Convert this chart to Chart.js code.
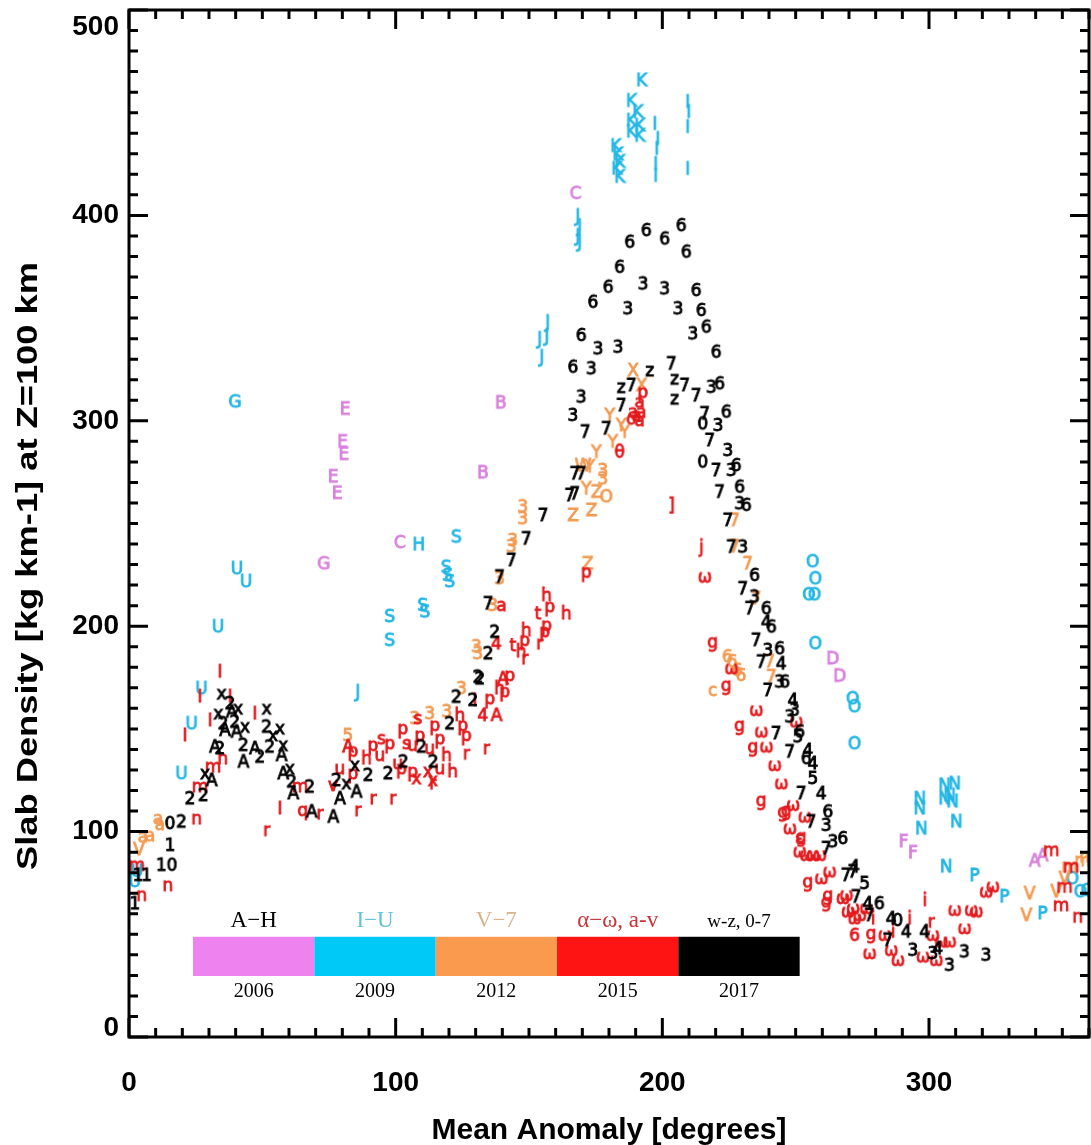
<!DOCTYPE html>
<html>
<head>
<meta charset="utf-8">
<script src="https://cdn.jsdelivr.net/npm/chart.js@4.4.1/dist/chart.umd.min.js"></script>
<style>
  html, body { margin: 0; padding: 0; background: #fff; }
  #wrap { width: 1091px; height: 1145px; position: relative; }
</style>
</head>
<body>
<div id="wrap"><canvas id="myChart" width="1091" height="1145"></canvas></div>
<script>
// points are [mean anomaly (deg), slab density, glyph]
const violet2006 = [
  [167.5, 410, 'C'], [81, 305, 'E'], [80, 289, 'E'], [80.5, 283, 'E'], [76.5, 272, 'E'], [78, 264, 'E'],
  [139.4, 308, 'B'], [132.7, 274, 'B'], [101.6, 240, 'C'], [73, 229.7, 'G'],
  [263.9, 183.5, 'D'], [266.5, 175, 'D'], [290.5, 94.4, 'F'], [294, 89, 'F'],
  [339.6, 85, 'A'], [342.6, 87.6, 'A']
];

const cyan2009 = [
  [192.2, 465, 'K'], [188.4, 455, 'K'], [190.8, 449.6, 'K'], [188.4, 445.4, 'K'], [191.5, 443, 'K'], [188.4, 440, 'K'],
  [191.5, 438, 'K'], [182.5, 433, 'K'], [183.3, 429, 'K'], [184, 425.3, 'K'], [182.9, 422, 'K'], [184, 418, 'K'],
  [197.2, 443.8, 'I'], [198.3, 436.5, 'I'], [197.9, 431.6, 'I'], [197.5, 424.3, 'I'], [197.5, 418.5, 'I'],
  [209.5, 454.5, 'I'], [209.9, 449.6, 'I'], [209.5, 442.3, 'I'], [209.5, 421.9, 'I'],
  [168.3, 399, 'J'], [169, 394, 'J'], [168.3, 389.3, 'J'], [169, 386.4, 'J'],
  [157, 347.4, 'J'], [154, 339.2, 'J'], [156.7, 340.6, 'J'], [154.8, 330.4, 'J'], [85.8, 167.4, 'J'],
  [39.7, 308.5, 'G'],
  [40.5, 227.3, 'U'], [43.9, 221, 'U'], [33.4, 199, 'U'], [27.2, 168.9, 'U'], [23.5, 151.8, 'U'], [19.7, 127.5, 'U'],
  [2.2, 75, 'U'], [3, 80, 'U'],
  [108.7, 239, 'H'],
  [122.8, 242.7, 'S'], [119, 228, 'S'], [119.5, 224, 'S'], [120.3, 221, 'S'], [110.2, 209.4, 'S'], [111, 206.3, 'S'],
  [97.8, 204, 'S'], [97.8, 192.4, 'S'],
  [256.4, 230.7, 'O'], [257.4, 222.4, 'O'], [255, 214.6, 'O'], [257.1, 214.6, 'O'], [257.4, 190.8, 'O'],
  [271.4, 164, 'O'], [272.1, 160.1, 'O'], [272.1, 142.1, 'O'],
  [296.5, 115.3, 'N'], [296.5, 110.5, 'N'], [297.1, 100.7, 'N'], [305.8, 121.8, 'N'], [305.8, 115.3, 'N'],
  [307.7, 116.9, 'N'], [308.8, 113.9, 'N'], [309.6, 122.6, 'N'], [310.2, 104.1, 'N'], [306.4, 82.2, 'N'],
  [317.1, 77.9, 'P'], [328.3, 67.6, 'P'], [342.6, 59.4, 'P'],
  [353.8, 76.4, 'O'], [356.8, 70, 'O'], [359.4, 70.6, 'O']
];

const orange2012 = [
  [10.9, 105.6, 'a'], [5.2, 96.8, 'a'], [7.9, 97.3, 'a'], [11.6, 102.7, 'a'], [3.7, 90.5, 'V'], [82.1, 146, '5'],
  [107.2, 154.3, '3'], [112.8, 156.7, '3'], [119.2, 157.7, '3'], [124.7, 168.9, '3'], [130.3, 189.3, '3'],
  [130.8, 185.9, '3'], [136.4, 209.4, '3'], [139, 222.4, '3'], [143.4, 238, '3'], [143.9, 241, '3'],
  [147.7, 251.6, '3'], [147.7, 257.4, '3'],
  [189, 323.7, 'X'], [192.2, 316.5, 'X'], [180.3, 301.9, 'Y'], [184.6, 297, 'Y'], [185.9, 293.8, 'Y'],
  [181.4, 289, 'Y'], [175.3, 284, 'Y'], [170.3, 277.5, 'W'], [172.8, 276.9, 'Y'], [177.7, 275.1, '3'],
  [177.7, 271, '3'], [171.5, 266.2, 'Y'], [175.3, 264.6, 'Z'], [179, 262.3, 'O'], [166.5, 253.2, 'Z'],
  [173.4, 255.6, 'Z'], [172, 229.7, 'Z'],
  [227.1, 250.8, '7'], [227.1, 238, '7'], [232, 229.7, '7'], [235.2, 212.7, '7'], [240.3, 182, '7'], [240.9, 174.7, '7'],
  [224.4, 184.4, '6'], [226.2, 182, '6'], [228.1, 177.8, '6'], [229.5, 175.3, '6'], [218.9, 168, 'c'],
  [337.7, 69.1, 'V'], [336.5, 58.5, 'V'], [347.7, 70, 'V'], [350.8, 76.4, 'V'],
  [357.6, 85.2, 'm'], [352.7, 82.2, 'm'], [359.4, 87.1, 'm']
];

const red2015 = [
  [2.9, 82.9, 'm'], [4.8, 68.3, 'n'], [14.6, 73.1, 'n'], [25.4, 105.6, 'n'], [26.6, 121.2, 'm'], [31.5, 130.9, 'm'],
  [35.2, 134.8, 'n'], [21, 146.1, 'I'], [26.6, 165, 'I'], [30.4, 153.4, 'I'], [34.1, 177.1, 'I'], [37.9, 165, 'I'],
  [47.2, 156.7, 'I'], [51.6, 99.9, 'r'], [56.6, 110.5, 'I'], [65.2, 109.6, 'q'], [71.6, 108, 'r'], [85.8, 109.6, 'r'],
  [91.5, 115.3, 'r'], [98.9, 115.3, 'r'], [113.9, 122.6, 'r'], [126.5, 137.2, 'r'], [134, 139.7, 'r'],
  [64.1, 121.2, 'm'], [76.5, 121.8, 'v'], [82.1, 140.6, 'A'], [84, 138.5, 'p'],
  [91.5, 141.3, 'p'], [94.7, 144.5, 's'], [97.8, 142.1, 'p'], [102.7, 149.4, 'p'], [104.1, 142.1, 's'],
  [106.4, 141.3, 'u'], [109.1, 146.1, 'p'], [112.8, 139.7, 'u'], [116.6, 144.5, 'p'], [119.1, 136.4, 'h'],
  [121.4, 128.5, 'h'], [114.7, 151, 'p'], [108.3, 154.3, 's'], [94.1, 136.4, 'u'], [89.1, 134.8, 'h'],
  [100.8, 132.4, 'u'], [102.2, 129.9, 'p'], [106.4, 128.5, 'p'], [107.8, 125.1, 'x'], [112.1, 128.5, 'x'],
  [113.9, 124.2, 'x'], [116.6, 129.9, 'u'], [84, 127.5, 'p'], [79.1, 129.9, 'u'], [125.2, 151, 'p'],
  [126.5, 146.1, 'p'], [124.1, 155.9, 'h'], [137.8, 155.9, 'A'], [129.7, 163.2, 'I'], [135.3, 164, 'p'],
  [132.7, 155.9, '4'],
  [156.6, 214.3, 'h'], [157.8, 208.8, 'p'], [153.3, 205.4, 't'], [164, 205.4, 'h'], [156.6, 199.7, 'p'],
  [155.9, 196.6, 'p'], [154, 190.8, 'r'], [149, 197.2, 'h'], [148.4, 192.4, 'p'], [147.1, 186.9, 'h'],
  [143.9, 189.9, 't'], [148.4, 183.5, 'r'], [142.8, 175.3, 'p'], [140.2, 173.7, 'A'], [139, 168.9, 'h'],
  [140.9, 167.4, 'p'], [137.8, 190.8, '4'], [171.5, 225.6, 'p'], [139.7, 209.4, 'a'],
  [191.5, 308.4, 'a'], [189, 303.5, 'a'], [192.1, 303.5, 'a'], [190.3, 301.9, 'a'], [188.4, 300.2, 'o'],
  [192.7, 313.2, 'p'], [191.5, 299.4, 'a'], [184, 284, 'θ'],
  [203.4, 258.1, ']'], [214.6, 237.8, 'j'], [215.9, 223.2, 'ω'], [218.9, 191.6, 'g'], [224, 170.5, 'g'], [225.9, 178.6, 'ω'],
  [235.2, 158.3, 'ω'], [229, 151, 'g'], [237.1, 147.8, 'ω'], [234, 140.5, 'g'], [239, 140.5, 'ω'], [242.1, 131.5, 'ω'],
  [244.6, 122.6, 'ω'], [237.1, 114.5, 'g'], [245.2, 108.9, 'g'], [249, 112.1, 'ω'], [247.8, 100.7, 'ω'],
  [252.1, 96.7, 'g'], [251.5, 89.4, 'ω'], [254, 87.7, 'ω'], [259, 87.7, 'ω'], [254.6, 74.8, 'g'], [259.6, 76.4, 'ω'],
  [262.1, 68.3, 'g'], [269, 68.3, 'ω'], [271.5, 61.8, 'ω'], [253.4, 106.4, 'ω'], [250.2, 152.7, 'ω'],
  [246.5, 109.6, 'g'], [251.5, 95.9, 'ε'], [256.5, 87.7, 'ω'], [262.7, 79.7, 'ω'], [261.5, 65.1, 'g'],
  [267.7, 66.7, 'ω'], [269.6, 60.2, 'ω'], [272.1, 56.9, 'ω'], [274, 58.5, 'ω'], [276.5, 61.8, 'ω'], [279, 56.9, 'i'],
  [272.1, 48.8, '6'], [278.3, 49.6, 'g'], [283.4, 48.8, 'ω'], [286.5, 50.5, 'i'], [292.7, 56.9, 'i'],
  [277.7, 39.9, 'ω'], [285.8, 41.5, 'ω'], [288.3, 36.6, 'ω'], [298.4, 65.8, 'i'], [300.8, 55.3, 'r'],
  [301.4, 48.8, 'ω'], [304.6, 45.6, 'ω'], [307.7, 45.6, 'ω'], [297.7, 38.3, 'ω'], [302.7, 36.6, 'ω'],
  [313.3, 52.1, 'ω'], [309.6, 61, 'ω'], [315.8, 61, 'ω'], [317.7, 60.2, 'ω'], [321.4, 69.9, 'ω'], [323.9, 72.4, 'ω'],
  [345.8, 90.2, 'm'], [353.3, 82.1, 'm'], [349.5, 63.4, 'm'], [350.8, 72.4, 'm'], [355.8, 57.8, 'n']
];

const black2017 = [
  [2.2, 64.2, '1'], [6.6, 78, '1'], [3.4, 78, '1'], [14.1, 82.9, '10'], [15.4, 92.6, '1'], [15.4, 103.2, '0'],
  [19.7, 104, '2'], [22.9, 115.3, '2'], [27.9, 116.9, '2'], [31, 124.2, 'A'], [28.5, 127.5, 'x'], [32.2, 140.5, 'A'],
  [34.1, 139.7, '2'], [33.5, 156.7, 'x'], [35.3, 151.8, '2'], [36, 148.6, 'A'], [34.7, 166.4, 'x'], [37.9, 161.6, '2'],
  [38.5, 157.5, 'A'], [39.7, 152.6, '2'], [40.9, 159.1, 'x'], [40.3, 147.8, 'A'], [43.5, 150.2, 'x'], [42.9, 141.3, '2'],
  [42.9, 133.2, 'A'], [47.2, 139.7, 'A'], [49.1, 135.6, '2'], [51.6, 159.1, 'x'], [51.6, 150.2, '2'], [54, 146.1, 'x'],
  [52.8, 140.5, '2'], [56.6, 149.4, 'x'], [57.8, 141.3, 'x'], [57.2, 136.4, 'A'], [57.8, 127.5, 'A'], [60.3, 129.9, 'x'],
  [61, 123.5, '2'], [61.6, 117.8, 'A'], [67.8, 121, '2'], [68.5, 108.9, 'A'], [76.6, 106.4, 'A'], [77.8, 124.2, '2'],
  [81.5, 122.6, 'x'], [79.1, 115.3, 'A'], [85.3, 118.6, 'A'], [84.7, 131.5, 'x'], [89.7, 126.7, '2'], [97.2, 127.5, '2'],
  [102.9, 133.2, '2'], [109.7, 140.5, '2'], [114.1, 133.2, '2'], [120.3, 151.8, '2'], [122.8, 164.8, '2'], [129, 163.2, '2'],
  [130.9, 174.5, '2'], [134.7, 185.9, '2'], [137.2, 196.4, '2'], [131.6, 173.7, '2'],
  [134.7, 210.2, '7'], [139, 223.2, '7'], [143.4, 231.3, '7'], [149, 241.8, '7'], [155.3, 253.2, '7'],
  [167.2, 273.5, '7'], [169.6, 273.5, '7'], [165.3, 262.9, '7'], [167.2, 263.7, '7'], [171.1, 293.8, '7'],
  [179, 295.4, '7'], [166.5, 301.9, '3'], [169.6, 310.8, '3'], [166.5, 325.4, '6'], [173.4, 324.6, '3'],
  [179.7, 364.3, '6'], [192.8, 365.9, '3'], [200.9, 363.5, '3'], [212.7, 362.7, '6'], [174, 357, '6'],
  [187.1, 353.8, '3'], [205.9, 353.8, '3'], [214.6, 353, '6'], [169.6, 340.8, '6'], [175.9, 334.3, '3'],
  [183.4, 335.1, '3'], [211.5, 341.6, '3'], [216.5, 344.9, '6'], [184.6, 315.6, 'z'], [188.4, 316.5, '7'],
  [184.6, 306.7, '7'], [195.3, 323.7, 'z'], [203.4, 327, '7'], [204.6, 319.7, 'z'], [208.4, 316.5, '7'],
  [204.6, 310, 'z'], [212.7, 311.5, '7'], [215.2, 297.8, '0'], [215.2, 279.2, '0'],
  [187.8, 386.2, '6'], [194, 391.9, '6'], [200.9, 387.8, '6'], [207.1, 394.3, '6'], [209, 381.4, '6'], [184, 374, '6'],
  [220.2, 332.7, '6'],
  [218.4, 315.6, '3'], [221.5, 317.3, '6'], [215.9, 302.7, '7'], [224, 303.5, '6'], [220.9, 297, '3'],
  [217.8, 289.7, '7'], [224.6, 284.8, '3'], [220.2, 275.1, '7'], [225.9, 275.1, '3'], [227.7, 277.5, '6'],
  [221.5, 264.6, '7'], [229, 267, '6'], [229, 258.9, '3'], [231.5, 258.1, '6'], [224.6, 250.8, '7'],
  [225.9, 237.8, '7'], [230.2, 237.8, '3'], [234.6, 224, '6'], [230.2, 217.5, '7'], [234.6, 213.5, '3'],
  [232.8, 207.8, '7'], [239, 207.8, '6'], [240.9, 198.9, '6'], [239, 201.3, '4'], [235.2, 192.4, '7'],
  [239.6, 187.5, '3'], [244, 188.3, '6'], [237.1, 181.8, '7'], [244.6, 181, '4'], [244, 172.1, '3'],
  [245.9, 172.1, '6'], [239.6, 168, '7'],
  [249, 163.2, '4'], [249.6, 158.3, '3'], [247.8, 155.1, '3'], [242.7, 147, '7'], [251.5, 147.8, '6'],
  [250.9, 145.4, '5'], [247.8, 138.1, '7'], [254.6, 138.8, '4'], [254, 134.8, '6'], [256.5, 132.4, '4'],
  [256.5, 125.1, '5'], [259.6, 117.8, '4'], [252.1, 117.8, '7'], [262.1, 108.9, '6'], [255.8, 104, '7'],
  [261.5, 102.3, '3'], [267.7, 95.9, '6'], [264, 94.3, '3'], [261.5, 91, '7'], [271.5, 79.7, '7'],
  [272.1, 82.1, '4'], [272.7, 67.5, '7'], [275.9, 74, '5'], [277.1, 64.2, '4'],
  [268.9, 78, '7'], [281.4, 64.2, '6'], [277.7, 58.5, '7'], [285.8, 56.9, '4'], [288.3, 56, '0'],
  [284.6, 46.4, '7'], [291.5, 50.5, '4'], [298.4, 50.5, '4'], [294, 41.5, '3'], [301.5, 39.9, '3'],
  [303.3, 42.3, '4'], [307.7, 34.2, '3'], [313.3, 40.7, '3'], [321.4, 39.1, '3']
];

const groups = [
  { name: 'w-z, 0-7', year: '2017', points: black2017, color: '#000000', bar: '#000000', text: '#000000' },
  { name: 'α−ω, a-v', year: '2015', points: red2015, color: '#e3191c', bar: '#ff1414', text: '#c8343a' },
  { name: 'V−7', year: '2012', points: orange2012, color: '#f39a52', bar: '#f99a4e', text: '#d6b48c' },
  { name: 'I−U', year: '2009', points: cyan2009, color: '#22b6e4', bar: '#00c8f7', text: '#5fc3d6' },
  { name: 'A−H', year: '2006', points: violet2006, color: '#d981dd', bar: '#ee82ee', text: '#000000' }
];
const legendOrder = ['2006', '2009', '2012', '2015', '2017'];
const xTickValues = [0, 100, 200, 300];
const yTickValues = [0, 100, 200, 300, 400, 500];

// glyph images used as point styles
const glyphCache = {};
function glyph(ch, color) {
  const key = ch + '|' + color;
  if (glyphCache[key]) return glyphCache[key];
  const c = document.createElement('canvas');
  c.width = 28;
  c.height = 24;
  const g = c.getContext('2d');
  g.font = '17px "DejaVu Sans"';
  g.fillStyle = color;
  g.strokeStyle = color;
  g.lineWidth = 0.9;
  g.textAlign = 'center';
  g.textBaseline = 'middle';
  g.fillText(ch, 14, 12);
  g.strokeText(ch, 14, 12);
  glyphCache[key] = c;
  return c;
}

const frame = {
  id: 'frame',
  afterDraw(chart) {
    const { ctx, chartArea: { left, right, top, bottom }, scales: { x, y } } = chart;
    ctx.save();
    ctx.strokeStyle = '#000';
    ctx.lineWidth = 3;
    ctx.strokeRect(left, top, right - left, bottom - top);
    ctx.beginPath();
    for (let v = 0; v <= 360; v += 10) {
      const px = x.getPixelForValue(v);
      const len = v % 100 === 0 ? 19 : 9;
      ctx.moveTo(px, bottom); ctx.lineTo(px, bottom - len);
      ctx.moveTo(px, top); ctx.lineTo(px, top + len);
    }
    for (let v = 0; v <= 500; v += 10) {
      const py = y.getPixelForValue(v);
      const len = v % 100 === 0 ? 19 : 9;
      ctx.moveTo(left, py); ctx.lineTo(left + len, py);
      ctx.moveTo(right, py); ctx.lineTo(right - len, py);
    }
    ctx.stroke();

    // tick labels
    ctx.fillStyle = '#000';
    ctx.font = 'bold 28px "Liberation Sans"';
    ctx.textAlign = 'right';
    ctx.textBaseline = 'middle';
    yTickValues.forEach(v => {
      let py = y.getPixelForValue(v);
      py = Math.min(Math.max(py, top + 17), bottom - 9);
      ctx.fillText(String(v), left - 10, py);
    });
    ctx.textAlign = 'center';
    xTickValues.forEach(v => {
      ctx.fillText(String(v), x.getPixelForValue(v), bottom + 46);
    });

    // axis titles
    ctx.font = 'bold 30px "Liberation Sans"';
    ctx.fillText('Mean Anomaly [degrees]', (left + right) / 2, bottom + 94);
    const yTitle = 'Slab Density [kg km-1] at Z=100 km';
    ctx.save();
    ctx.translate(29, 566);
    ctx.rotate(-Math.PI / 2);
    ctx.scale(608 / ctx.measureText(yTitle).width, 1);
    ctx.fillText(yTitle, 0, 0);
    ctx.restore();

    // colour bar legend
    const barL = x.getPixelForValue(24), barR = x.getPixelForValue(251.5);
    const barT = y.getPixelForValue(48.8), barB = y.getPixelForValue(29.7);
    const w = (barR - barL) / legendOrder.length;
    legendOrder.forEach((yr, i) => {
      const gr = groups.find(g => g.year === yr);
      const x0 = barL + i * w;
      ctx.fillStyle = gr.bar;
      ctx.fillRect(x0, barT, w, barB - barT);
      ctx.fillStyle = gr.text;
      ctx.font = i === 4 ? '19px "Liberation Serif"' : '23px "Liberation Serif"';
      ctx.textBaseline = 'alphabetic';
      ctx.fillText(gr.name, x0 + w / 2, barT - 10);
      ctx.fillStyle = '#000';
      ctx.font = '20px "Liberation Serif"';
      ctx.fillText(yr, x0 + w / 2, barB + 21);
    });
    ctx.restore();
  }
};

const ctx = document.getElementById('myChart').getContext('2d');
const chart = new Chart(ctx, {
  type: 'scatter',
  data: {
    datasets: groups.map(gr => ({
      label: gr.year,
      data: gr.points.map(p => ({ x: p[0], y: p[1], c: p[2] })),
      pointStyle: (c) => {
        const raw = c.raw;
        return raw ? glyph(raw.c, gr.color) : 'circle';
      },
      pointRadius: 6,
      backgroundColor: gr.color,
      borderColor: gr.color
    }))
  },
  options: {
    responsive: false,
    animation: false,
    events: [],
    layout: { autoPadding: false, padding: { top: 10, right: 2, left: 0, bottom: 0 } },
    plugins: { legend: { display: false }, tooltip: { enabled: false } },
    scales: {
      x: {
        type: 'linear', min: 0, max: 360,
        ticks: { display: false, stepSize: 100 },
        grid: { display: false },
        border: { display: false },
        afterFit: (s) => { s.height = 108; s.paddingLeft = 0; s.paddingRight = 0; }
      },
      y: {
        type: 'linear', min: 0, max: 500,
        ticks: { display: false, stepSize: 100 },
        grid: { display: false },
        border: { display: false },
        afterFit: (s) => { s.width = 129; s.paddingTop = 0; s.paddingBottom = 0; }
      }
    }
  },
  plugins: [frame]
});
</script>
</body>
</html>
